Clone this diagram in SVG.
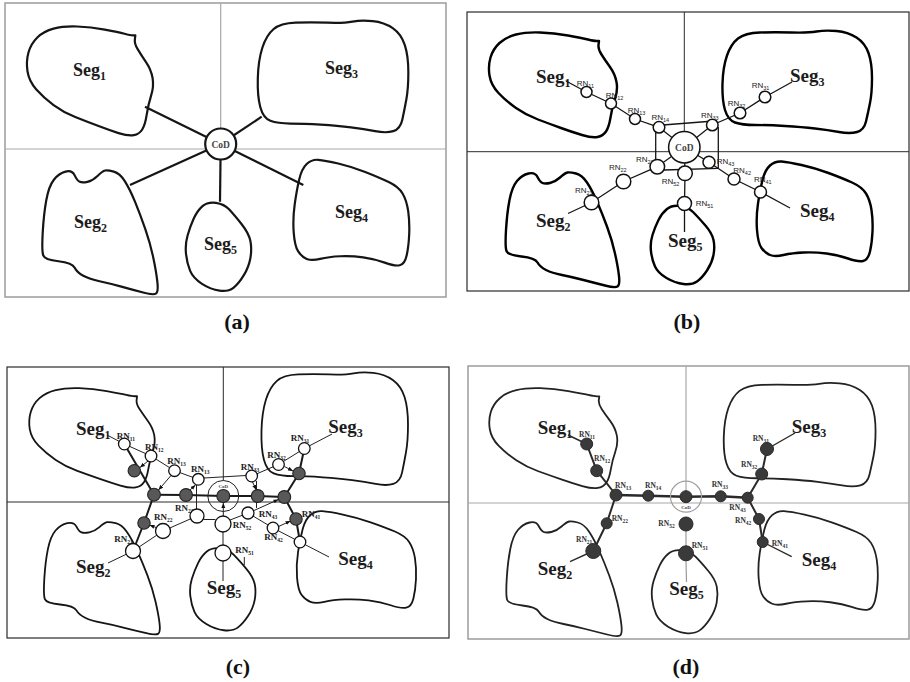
<svg xmlns="http://www.w3.org/2000/svg" width="910" height="682" viewBox="0 0 910 682">
<style>
  .shape { fill: none; vector-effect: non-scaling-stroke; stroke-linejoin: round; }
  .blob-a { stroke: #151515; stroke-width: 2.2; }
  .blob-b { stroke: #000; stroke-width: 2.4; }
  .blob-c { stroke: #151515; stroke-width: 1.8; }
  .blob-d { stroke: #222; stroke-width: 1.8; }
  .frame-gray { fill: none; stroke: #9c9c9c; stroke-width: 1.5; }
  .frame-dark { fill: none; stroke: #2a2a2a; stroke-width: 1.2; }
  .quad-gray { stroke: #a8a8a8; stroke-width: 1.2; }
  .quad-dark { stroke: #2a2a2a; stroke-width: 1; }
  .seg { font-family: "Liberation Serif", "Times New Roman", serif; font-weight: bold; fill: #1c1c1c; }
  .s18 { font-size: 18px; }
  .s19 { font-size: 19px; }
  .sub { font-size: 12px; }
  .cap { font-family: "Liberation Serif", "Times New Roman", serif; font-weight: bold; font-size: 22px; fill: #111; text-anchor: middle; }
  .cod { font-family: "Liberation Serif", "Times New Roman", serif; font-weight: bold; fill: #444; text-anchor: middle; }
  .rn-b { font-family: "Liberation Sans", Arial, sans-serif; font-size: 8px; fill: #222; }
  .rn-c { font-family: "Liberation Serif", "Times New Roman", serif; font-weight: bold; font-size: 9px; fill: #222; }
  .rn-d { font-family: "Liberation Serif", "Times New Roman", serif; font-weight: bold; font-size: 7.5px; fill: #333; }
  .rs { font-size: 5.5px; }
  .link-a { stroke: #151515; stroke-width: 2.2; fill: none; }
  .link-b { stroke: #151515; stroke-width: 1.3; fill: none; }
  .link-c { stroke: #222; stroke-width: 1; fill: none; }
  .trunk-c { stroke: #1a1a1a; stroke-width: 2; fill: none; stroke-linejoin: round; }
  .arrow-c { stroke: #222; stroke-width: 1; fill: none; marker-end: url(#head); }
  .trunk-d { stroke: #2a2a2a; stroke-width: 2; fill: none; stroke-linejoin: round; }
  .lead-d { stroke: #2a2a2a; stroke-width: 1.4; fill: none; }
  .gray-d { stroke: #9a9a9a; stroke-width: 1.2; fill: none; }
  .open-b { fill: #fff; stroke: #111; stroke-width: 1.5; }
  .open-c { fill: #fff; stroke: #111; stroke-width: 1.3; }
  .dark-c { fill: #585858; stroke: #222; stroke-width: 1.1; }
  .dark-d { fill: #3a3a3a; stroke: #2a2a2a; stroke-width: 1; }
</style>
<defs>
  <marker id="head" viewBox="0 0 10 10" refX="10" refY="5" markerWidth="5" markerHeight="5" markerUnits="userSpaceOnUse" orient="auto">
    <path d="M0,1 L10,5 L0,9 Z" fill="#111"/>
  </marker>
  <!-- segment outlines, each in its own local frame -->
  <path id="blob-seg1" class="shape" d="M108.5,9 L111,9 L110.5,13 Q110,17 113.5,22.5 Q117,28 122,35 Q127,42 128.5,50 Q130,58 127,67 Q124,76 122.5,85.5 Q121,95 118,99.5 Q115,104 109.5,105 Q104,106 94,103 Q84,100 73,96 Q62,92 50,87.5 Q38,83 28,76 Q18,69 10.5,61 Q3,53 1.5,43.5 Q0,34 2.5,25.5 Q5,17 11.5,11 Q18,5 28,2.5 Q38,0 52,0.5 Q66,1 80,3.5 Q94,6 100,7.5 Q106,9 108.5,9 Z"/>
  <path id="blob-seg3" class="shape" d="M16,9.5 Q23,4 38,3.5 Q53,3 69.5,3.5 Q86,4 94.5,2.5 Q103,1 114.5,2 Q126,3 134.5,8.5 Q143,14 146.5,24 Q150,34 150,49 Q150,64 148,74 Q146,84 144,92.5 Q142,101 135,103 Q128,105 117,103 Q106,101 93,99.5 Q80,98 63,97 Q46,96 33,96 Q20,96 13,93.5 Q6,91 3,81 Q0,71 0.5,54.5 Q1,38 5,26.5 Q9,15 16,9.5 Z"/>
  <path id="blob-seg2" class="shape" d="M23.5,2.5 Q30,1 32.5,6 Q35,11 37.5,12 Q40,13 45,12 Q50,11 55,6.5 Q60,2 62.5,1.5 Q65,1 71,2.5 Q77,4 82,11.5 Q87,19 92,30.5 Q97,42 102,55.5 Q107,69 110,82.5 Q113,96 114,105 Q115,114 112.5,115.5 Q110,117 100,114.5 Q90,112 78.5,109 Q67,106 57,104 Q47,102 41,99 Q35,96 32.5,91.5 Q30,87 16.5,85.5 Q3,84 1.5,80 Q0,76 1,59 Q2,42 4.5,29 Q7,16 12,10 Q17,4 23.5,2.5 Z"/>
  <path id="blob-seg5" class="shape" d="M17,4 Q22,0 30,1 Q38,2 43,7 Q48,12 55,20 Q62,28 63.5,35 Q65,42 63.5,50 Q62,58 57,65.5 Q52,73 47,76.5 Q42,80 33.5,79 Q25,78 16.5,73 Q8,68 5,61.5 Q2,55 1,46.5 Q0,38 2.5,30 Q5,22 8.5,15 Q12,8 17,4 Z"/>
  <path id="blob-seg4" class="shape" d="M14,5.5 Q19,1 25.5,1.5 Q32,2 45.5,5 Q59,8 72.5,13 Q86,18 96,22.5 Q106,27 110,33.5 Q114,40 115.5,50 Q117,60 116.5,71.5 Q116,83 114,91.5 Q112,100 107,101 Q102,102 92,98.5 Q82,95 70.5,93.5 Q59,92 47.5,92.5 Q36,93 27.5,95 Q19,97 14,95 Q9,93 5.5,88 Q2,83 1,70 Q0,57 2,43.5 Q4,30 6.5,20 Q9,10 14,5.5 Z"/>
</defs>
<rect width="910" height="682" fill="#fff"/>

<!-- ===== (a) star layout ===== -->
<g id="panel-a">
  <rect class="frame-gray" x="5" y="3" width="441" height="294"/>
  <line class="quad-gray" x1="220.7" y1="3" x2="220.7" y2="149"/>
  <line class="quad-gray" x1="5" y1="149" x2="446" y2="149"/>
  <g id="a-links" class="link-a">
    <line x1="220.7" y1="144" x2="145" y2="106.7"/>
    <line x1="220.7" y1="144" x2="261.7" y2="116.7"/>
    <line x1="220.7" y1="144" x2="130" y2="185"/>
    <line x1="220.7" y1="144" x2="220" y2="201.7"/>
    <line x1="220.7" y1="144" x2="303.3" y2="185"/>
  </g>
  <g id="a-seg1"><use href="#blob-seg1" class="blob-a" transform="translate(26,26) scale(0.985,1.04)"/><text class="seg s18" x="73" y="76">Seg<tspan class="sub" dy="4">1</tspan></text></g>
  <g id="a-seg3"><use href="#blob-seg3" class="blob-a" transform="translate(257.3,18.9) scale(1.007,1.09)"/><text class="seg s18" x="325" y="74">Seg<tspan class="sub" dy="4">3</tspan></text></g>
  <g id="a-seg2"><use href="#blob-seg2" class="blob-a" transform="translate(41.7,168.9) scale(1.015,1.08)"/><text class="seg s18" x="74" y="228">Seg<tspan class="sub" dy="4">2</tspan></text></g>
  <g id="a-seg5"><use href="#blob-seg5" class="blob-a" transform="translate(185,201.7) scale(1.03,1.125)"/><text class="seg s18" x="204" y="250">Seg<tspan class="sub" dy="4">5</tspan></text></g>
  <g id="a-seg4"><use href="#blob-seg4" class="blob-a" transform="translate(292.7,158.2) scale(1,1.06)"/><text class="seg s18" x="335" y="218">Seg<tspan class="sub" dy="4">4</tspan></text></g>
  <g id="a-cod"><circle cx="220.7" cy="144" r="15.5" fill="#fff" stroke="#151515" stroke-width="2.2"/><text class="cod" x="220.7" y="147.5" font-size="9.5">CoD</text></g>
  <text class="cap" x="237" y="329">(a)</text>
</g>

<!-- ===== (b) relay nodes round the CoD ===== -->
<g id="panel-b">
  <rect class="frame-dark" x="467" y="12" width="442" height="279"/>
  <line class="quad-dark" x1="684.3" y1="12" x2="684.3" y2="152"/>
  <line class="quad-dark" x1="467" y1="151.7" x2="909" y2="151.7"/>
  <g id="b-seg1"><use href="#blob-seg1" class="blob-b" transform="translate(488,32)"/><text class="seg s19" x="536" y="82.7">Seg<tspan class="sub" dy="4">1</tspan></text></g>
  <g id="b-seg3"><use href="#blob-seg3" class="blob-b" transform="translate(722,29)"/><text class="seg s19" x="790" y="81.7">Seg<tspan class="sub" dy="4">3</tspan></text></g>
  <g id="b-seg2"><use href="#blob-seg2" class="blob-b" transform="translate(505,171)"/><text class="seg s19" x="536" y="226.7">Seg<tspan class="sub" dy="4">2</tspan></text></g>
  <g id="b-seg5"><use href="#blob-seg5" class="blob-b" transform="translate(650,205)"/><text class="seg s19" x="668" y="246.7">Seg<tspan class="sub" dy="4">5</tspan></text></g>
  <g id="b-seg4"><use href="#blob-seg4" class="blob-b" transform="translate(756,160)"/><text class="seg s19" x="800" y="216.7">Seg<tspan class="sub" dy="4">4</tspan></text></g>
  <g id="b-links" class="link-b">
    <polyline points="566,81 586.5,92 611,103.5 635,119 659,127.3 684.3,147.3"/>
    <line x1="663" y1="125" x2="707.5" y2="121.5"/>
    <polyline points="684.3,147.3 712.3,125 740,113 765,97 792,82"/>
    <line x1="655.7" y1="131" x2="655.7" y2="161"/>
    <line x1="718.3" y1="127" x2="718.3" y2="168.3"/>
    <line x1="664" y1="170" x2="718.3" y2="168.3"/>
    <polyline points="684.3,147.3 657.3,166.7 623.5,181.5 591.5,202.5 568,213.5"/>
    <polyline points="684.3,147.3 685,173.3 684.5,203.5 684.5,232"/>
    <polyline points="684.3,147.3 709,162.3 734,179 760.5,192 790,208"/>
  </g>
  <g id="b-cod"><circle cx="684.3" cy="147.3" r="15.7" class="open-b"/><text class="cod" x="684.3" y="150.5" font-size="9.5" font-weight="normal" fill="#222">CoD</text></g>
  <g id="b-rn11"><text class="rn-b" x="576.7" y="86">RN<tspan class="rs" dy="2">11</tspan></text><circle cx="586.5" cy="92" r="5.5" class="open-b"/></g>
  <g id="b-rn12"><text class="rn-b" x="605.7" y="97.7">RN<tspan class="rs" dy="2">12</tspan></text><circle cx="611" cy="103.5" r="5.5" class="open-b"/></g>
  <g id="b-rn13"><text class="rn-b" x="627.7" y="113.3">RN<tspan class="rs" dy="2">13</tspan></text><circle cx="635" cy="119" r="5.5" class="open-b"/></g>
  <g id="b-rn14"><text class="rn-b" x="651.5" y="120.3">RN<tspan class="rs" dy="2">14</tspan></text><circle cx="659" cy="127.3" r="5.8" class="open-b"/></g>
  <g id="b-rn33"><text class="rn-b" x="701" y="118.3">RN<tspan class="rs" dy="2">33</tspan></text><circle cx="712.3" cy="125" r="5.8" class="open-b"/></g>
  <g id="b-rn32"><text class="rn-b" x="727.7" y="106">RN<tspan class="rs" dy="2">32</tspan></text><circle cx="740" cy="113" r="5.8" class="open-b"/></g>
  <g id="b-rn31"><text class="rn-b" x="751.7" y="88.3">RN<tspan class="rs" dy="2">31</tspan></text><circle cx="765" cy="97" r="5.8" class="open-b"/></g>
  <g id="b-rn23"><text class="rn-b" x="636" y="161.7">RN<tspan class="rs" dy="2">23</tspan></text><circle cx="657.3" cy="166.7" r="7.3" class="open-b"/></g>
  <g id="b-rn22"><text class="rn-b" x="609" y="170">RN<tspan class="rs" dy="2">22</tspan></text><circle cx="623.5" cy="181.5" r="7.3" class="open-b"/></g>
  <g id="b-rn21"><text class="rn-b" x="575" y="193.3">RN<tspan class="rs" dy="2">21</tspan></text><circle cx="591.5" cy="202.5" r="7.3" class="open-b"/></g>
  <g id="b-rn52"><text class="rn-b" x="661.7" y="184.3">RN<tspan class="rs" dy="2">52</tspan></text><circle cx="685" cy="173.3" r="7.3" class="open-b"/></g>
  <g id="b-rn51"><text class="rn-b" x="695.7" y="206">RN<tspan class="rs" dy="2">51</tspan></text><circle cx="684.5" cy="203.5" r="7" class="open-b"/></g>
  <g id="b-rn43"><circle cx="709" cy="162.3" r="6" class="open-b"/><text class="rn-b" x="716.7" y="164.3">RN<tspan class="rs" dy="2">43</tspan></text></g>
  <g id="b-rn42"><circle cx="734" cy="179" r="6" class="open-b"/><text class="rn-b" x="733.3" y="173.3">RN<tspan class="rs" dy="2">42</tspan></text></g>
  <g id="b-rn41"><text class="rn-b" x="754" y="181.7">RN<tspan class="rs" dy="2">41</tspan></text><circle cx="760.5" cy="192" r="6" class="open-b"/></g>
  <text class="cap" x="687" y="329">(b)</text>
</g>

<!-- ===== (c) backbone selection ===== -->
<g id="panel-c">
  <rect class="frame-dark" x="7" y="367" width="442" height="271"/>
  <line class="quad-dark" x1="223.3" y1="367" x2="223.3" y2="480.5"/>
  <line class="quad-dark" x1="7" y1="502" x2="449" y2="502"/>
  <g id="c-seg1"><use href="#blob-seg1" class="blob-c" transform="translate(28.3,387.7) scale(0.98,0.95)"/><text class="seg s19" x="76" y="435">Seg<tspan class="sub" dy="4">1</tspan></text></g>
  <g id="c-seg3"><use href="#blob-seg3" class="blob-c" transform="translate(261,370.6) scale(0.98,1.1)"/><text class="seg s19" x="328.3" y="433.3">Seg<tspan class="sub" dy="4">3</tspan></text></g>
  <g id="c-seg2"><use href="#blob-seg2" class="blob-c" transform="translate(43.3,520.7) scale(1.02,0.98)"/><text class="seg s19" x="76" y="573.3">Seg<tspan class="sub" dy="4">2</tspan></text></g>
  <g id="c-seg5"><use href="#blob-seg5" class="blob-c" transform="translate(189.3,547.3) scale(1.03,1.05)"/><text class="seg s19" x="206.7" y="594">Seg<tspan class="sub" dy="4">5</tspan></text></g>
  <g id="c-seg4"><use href="#blob-seg4" class="blob-c" transform="translate(296,509.7) scale(1.03,0.97)"/><text class="seg s19" x="338.3" y="565">Seg<tspan class="sub" dy="4">4</tspan></text></g>
  <g id="c-links">
    <g class="link-c">
      <polyline points="107,435 124.3,444 151,456 174.5,470.7 198.3,479.3"/>
      <line x1="204" y1="478" x2="246" y2="475.5"/>
      <polyline points="251.7,476 278.5,464.5 304.3,448.5 332,434"/>
      <line x1="196.5" y1="485" x2="196.5" y2="509"/>
      <line x1="256.5" y1="481" x2="256.5" y2="508"/>
      <line x1="203.5" y1="519.5" x2="215.5" y2="519.5"/>
      <line x1="230" y1="520" x2="243" y2="515"/>
      <polyline points="248,513 273,528 300,542 329,557"/>
      <polyline points="197,516 163,531 133,551 108,563"/>
      <line x1="244.3" y1="557" x2="244.3" y2="565"/>
    </g>
    <g class="link-c" stroke="#777">
      <line x1="223" y1="524" x2="223" y2="553"/>
      <line x1="223" y1="561" x2="223" y2="581"/>
    </g>
    <g class="trunk-c">
      <line x1="124.3" y1="444" x2="154" y2="494.7"/>
      <polyline points="154,494.7 186,495 223.3,496 257.7,496 284.3,497"/>
      <polyline points="304.3,448.5 299,473.5 284.3,497 296,519 300,542"/>
      <polyline points="154,494.7 144,523 133,551"/>
    </g>
    <g class="arrow-c">
      <line x1="148" y1="461" x2="140" y2="467.5"/>
      <line x1="171" y1="475.5" x2="158.5" y2="490"/>
      <line x1="190" y1="490" x2="195.5" y2="485"/>
      <line x1="252.5" y1="482" x2="256.3" y2="490"/>
      <line x1="223.3" y1="516" x2="223.3" y2="503"/>
      <line x1="254" y1="510.5" x2="278.5" y2="499.5"/>
      <line x1="278.5" y1="526.5" x2="290.5" y2="521"/>
      <line x1="284.5" y1="466.5" x2="293" y2="471"/>
      <line x1="157.5" y1="528" x2="149.5" y2="525"/>
    </g>
  </g>
  <g id="c-cod"><circle cx="223.3" cy="496" r="15.5" fill="none" stroke="#222" stroke-width="1"/><circle cx="223.3" cy="496" r="6.5" class="dark-c"/><text class="cod" x="223.3" y="487.5" font-size="5">CoD</text></g>
  <g id="c-d1"><circle cx="134.3" cy="470.7" r="6.2" class="dark-c"/></g>
  <g id="c-d2"><circle cx="154" cy="494.7" r="6.4" class="dark-c"/></g>
  <g id="c-d3"><circle cx="186" cy="495" r="6.4" class="dark-c"/></g>
  <g id="c-d4"><circle cx="257.7" cy="496" r="6.4" class="dark-c"/></g>
  <g id="c-d5"><circle cx="284.3" cy="497" r="6.4" class="dark-c"/></g>
  <g id="c-d6"><circle cx="299" cy="473.5" r="6.2" class="dark-c"/></g>
  <g id="c-d7"><circle cx="296" cy="519" r="6.2" class="dark-c"/></g>
  <g id="c-d8"><circle cx="144" cy="523" r="6.2" class="dark-c"/></g>
  <g id="c-rn11"><text class="rn-c" x="116.7" y="439">RN<tspan class="rs" dy="2">11</tspan></text><circle cx="124.3" cy="444" r="5.8" class="open-c"/></g>
  <g id="c-rn12"><text class="rn-c" x="145" y="450">RN<tspan class="rs" dy="2">12</tspan></text><circle cx="151" cy="456" r="5.8" class="open-c"/></g>
  <g id="c-rn13"><text class="rn-c" x="167.3" y="464.3">RN<tspan class="rs" dy="2">13</tspan></text><circle cx="174.5" cy="470.7" r="5.8" class="open-c"/></g>
  <g id="c-rn13b"><text class="rn-c" x="191" y="471.7">RN<tspan class="rs" dy="2">13</tspan></text><circle cx="198.3" cy="479.3" r="5.8" class="open-c"/></g>
  <g id="c-rn33"><text class="rn-c" x="240.7" y="470">RN<tspan class="rs" dy="2">33</tspan></text><circle cx="251.7" cy="476" r="5.8" class="open-c"/></g>
  <g id="c-rn32"><text class="rn-c" x="267.3" y="458.3">RN<tspan class="rs" dy="2">32</tspan></text><circle cx="278.5" cy="464.5" r="5.8" class="open-c"/></g>
  <g id="c-rn31"><text class="rn-c" x="290.7" y="441">RN<tspan class="rs" dy="2">31</tspan></text><circle cx="304.3" cy="448.5" r="5.8" class="open-c"/></g>
  <g id="c-rn23"><text class="rn-c" x="175" y="510.7">RN<tspan class="rs" dy="2">23</tspan></text><circle cx="197" cy="516" r="7" class="open-c"/></g>
  <g id="c-rn22"><text class="rn-c" x="154" y="520">RN<tspan class="rs" dy="2">22</tspan></text><circle cx="163" cy="531" r="7.5" class="open-c"/></g>
  <g id="c-rn21"><text class="rn-c" x="114.3" y="542.3">RN<tspan class="rs" dy="2">21</tspan></text><circle cx="133" cy="551" r="7.5" class="open-c"/></g>
  <g id="c-rn52"><circle cx="223" cy="524" r="8" class="open-c"/><text class="rn-c" x="232.7" y="528.3">RN<tspan class="rs" dy="2">52</tspan></text></g>
  <g id="c-rn51"><circle cx="223" cy="553" r="8" class="open-c"/><text class="rn-c" x="235.3" y="553.3">RN<tspan class="rs" dy="2">51</tspan></text></g>
  <g id="c-rn43"><circle cx="248" cy="513" r="6" class="open-c"/><text class="rn-c" x="258.7" y="516.7">RN<tspan class="rs" dy="2">43</tspan></text></g>
  <g id="c-rn42"><circle cx="273" cy="528" r="5.8" class="open-c"/><text class="rn-c" x="264.3" y="540">RN<tspan class="rs" dy="2">42</tspan></text></g>
  <g id="c-rn41"><circle cx="300" cy="542" r="5.8" class="open-c"/><text class="rn-c" x="301.7" y="517.3">RN<tspan class="rs" dy="2">41</tspan></text></g>
  <text class="cap" x="238" y="674">(c)</text>
</g>

<!-- ===== (d) resulting backbone tree ===== -->
<g id="panel-d">
  <rect class="frame-gray" x="468" y="366" width="441" height="273"/>
  <line class="quad-gray" x1="686" y1="366" x2="686" y2="503"/>
  <line class="quad-gray" x1="468" y1="503" x2="909" y2="503"/>
  <g id="d-seg1"><use href="#blob-seg1" class="blob-d" transform="translate(488.3,387.7) scale(1,0.955)"/><text class="seg s19" x="537.7" y="434">Seg<tspan class="sub" dy="4">1</tspan></text></g>
  <g id="d-seg3"><use href="#blob-seg3" class="blob-d" transform="translate(723.3,381.3) scale(1.015,1.01)"/><text class="seg s19" x="791.7" y="433.3">Seg<tspan class="sub" dy="4">3</tspan></text></g>
  <g id="d-seg2"><use href="#blob-seg2" class="blob-d" transform="translate(505.7,520) scale(1.015,1)"/><text class="seg s19" x="537.7" y="575">Seg<tspan class="sub" dy="4">2</tspan></text></g>
  <g id="d-seg5"><use href="#blob-seg5" class="blob-d" transform="translate(651,549.3) scale(1.035,1.06)"/><text class="seg s19" x="669.3" y="595">Seg<tspan class="sub" dy="4">5</tspan></text></g>
  <g id="d-seg4"><use href="#blob-seg4" class="blob-d" transform="translate(757.7,509.7) scale(1.03,0.99)"/><text class="seg s19" x="801.7" y="566">Seg<tspan class="sub" dy="4">4</tspan></text></g>
  <g id="d-links">
    <g class="lead-d">
      <line x1="568" y1="435" x2="586.7" y2="444"/>
      <line x1="593.3" y1="551" x2="570" y2="561.7"/>
      <line x1="767" y1="449" x2="795" y2="433"/>
      <line x1="762.7" y1="542" x2="791.7" y2="556.7"/>
    </g>
    <g class="trunk-d">
      <polyline points="586.7,444 596.7,470.7 616,495 606.7,523.3 593.3,551"/>
      <polyline points="616,495 648.3,495.7 686,496.7 720.7,496.3 747.7,497.7" stroke-width="2.6"/>
      <polyline points="767,449 761.7,474 747.7,497.7 759,519 762.7,542"/>
    </g>
    <g class="gray-d">
      <line x1="686" y1="531" x2="686" y2="546"/>
      <line x1="686" y1="561" x2="686.5" y2="582"/>
    </g>
  </g>
  <g id="d-cod"><circle cx="686" cy="496.7" r="15.5" fill="none" stroke="#a0a0a0" stroke-width="1.2"/><circle cx="686" cy="496.7" r="6" class="dark-d"/><text class="cod" x="686" y="508.5" font-size="5" fill="#666">CoD</text></g>
  <g id="d-rn11"><circle cx="586.7" cy="444" r="6" class="dark-d"/><text class="rn-d" x="579" y="436.7">RN<tspan class="rs" dy="2">11</tspan></text></g>
  <g id="d-rn12"><circle cx="596.7" cy="470.7" r="6" class="dark-d"/><text class="rn-d" x="594" y="460.7">RN<tspan class="rs" dy="2">12</tspan></text></g>
  <g id="d-rn13"><circle cx="616" cy="495" r="6" class="dark-d"/><text class="rn-d" x="615" y="488.3">RN<tspan class="rs" dy="2">13</tspan></text></g>
  <g id="d-rn14"><circle cx="648.3" cy="495.7" r="5.5" class="dark-d"/><text class="rn-d" x="645" y="488.3">RN<tspan class="rs" dy="2">14</tspan></text></g>
  <g id="d-rn33"><circle cx="720.7" cy="496.3" r="5.5" class="dark-d"/><text class="rn-d" x="711.7" y="487.3">RN<tspan class="rs" dy="2">33</tspan></text></g>
  <g id="d-rn43"><circle cx="747.7" cy="497.7" r="5.5" class="dark-d"/><text class="rn-d" x="729.3" y="510">RN<tspan class="rs" dy="2">43</tspan></text></g>
  <g id="d-rn32"><circle cx="761.7" cy="474" r="6" class="dark-d"/><text class="rn-d" x="741" y="466.7">RN<tspan class="rs" dy="2">32</tspan></text></g>
  <g id="d-rn31"><circle cx="767" cy="449" r="6.5" class="dark-d"/><text class="rn-d" x="752.7" y="441">RN<tspan class="rs" dy="2">31</tspan></text></g>
  <g id="d-rn42"><circle cx="759" cy="519" r="5.5" class="dark-d"/><text class="rn-d" x="735" y="523.3">RN<tspan class="rs" dy="2">42</tspan></text></g>
  <g id="d-rn41"><circle cx="762.7" cy="542" r="5.5" class="dark-d"/><text class="rn-d" x="771.7" y="545.7">RN<tspan class="rs" dy="2">41</tspan></text></g>
  <g id="d-rn52"><circle cx="686" cy="524" r="7" class="dark-d"/><text class="rn-d" x="658.3" y="525.7">RN<tspan class="rs" dy="2">52</tspan></text></g>
  <g id="d-rn51"><circle cx="686" cy="553.3" r="7.5" class="dark-d"/><text class="rn-d" x="691.7" y="547.7">RN<tspan class="rs" dy="2">51</tspan></text></g>
  <g id="d-rn22"><circle cx="606.7" cy="523.3" r="5.5" class="dark-d"/><text class="rn-d" x="611.7" y="520.7">RN<tspan class="rs" dy="2">22</tspan></text></g>
  <g id="d-rn21"><circle cx="593.3" cy="551" r="7.5" class="dark-d"/><text class="rn-d" x="576" y="541.7">RN<tspan class="rs" dy="2">21</tspan></text></g>
  <text class="cap" x="686" y="674">(d)</text>
</g>
</svg>
